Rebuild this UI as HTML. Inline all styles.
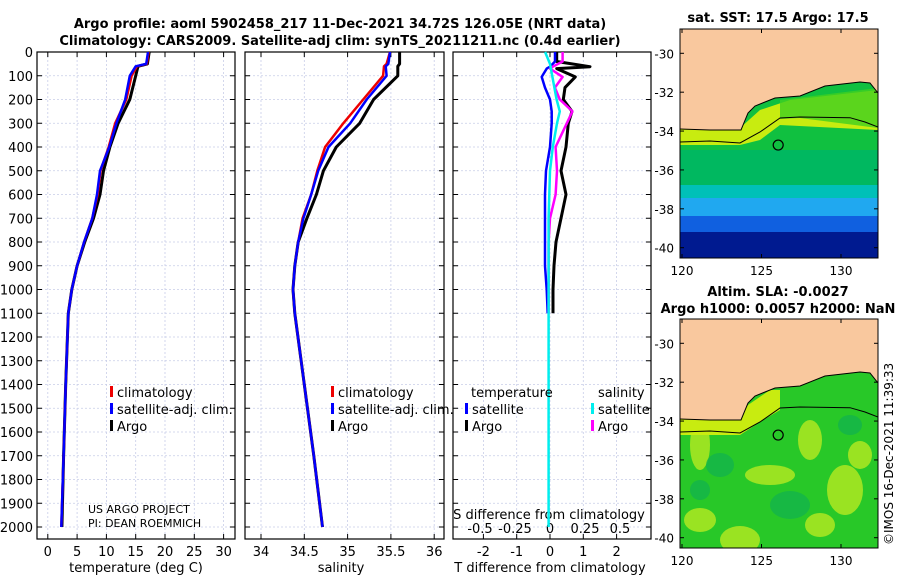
<!DOCTYPE html>
<html><head><meta charset="utf-8"><style>
body{margin:0;background:#fff;}
svg{display:block;font-family:"DejaVu Sans","Liberation Sans",sans-serif;}
</style></head><body>
<svg id="fig" width="900" height="580" viewBox="0 0 900 580" xmlns="http://www.w3.org/2000/svg">
<text x="340" y="28" font-size="13" font-weight="bold" text-anchor="middle">Argo profile: aoml 5902458_217 11-Dec-2021 34.72S 126.05E (NRT data)</text>
<text x="340" y="45" font-size="13" font-weight="bold" text-anchor="middle">Climatology: CARS2009. Satellite-adj clim: synTS_20211211.nc (0.4d earlier)</text>
<text x="778" y="22" font-size="13" font-weight="bold" text-anchor="middle">sat. SST: 17.5 Argo: 17.5</text>
<text x="778" y="296" font-size="13" font-weight="bold" text-anchor="middle">Altim. SLA: -0.0027</text>
<text x="778" y="313" font-size="13" font-weight="bold" text-anchor="middle">Argo h1000: 0.0057 h2000: NaN</text>
<text transform="translate(893,545) rotate(-90)" font-size="12">©IMOS 16-Dec-2021 11:39:33</text>
<g id="g"></g>
</svg>
<script>
// ---- data ----
const depthT = [0,50,60,100,200,300,400,500,600,700,800,900,1000,1100,1400,1700,2000];
const tempArgo = [17.3,17.0,15.4,15.0,14.0,12.0,10.6,9.5,8.9,7.8,6.3,5.0,4.1,3.5,3.05,2.7,2.4];
const tempClim = [17.2,16.9,15.2,14.3,13.4,11.5,10.4,9.0,8.5,7.6,6.2,5.0,4.1,3.5,3.05,2.7,2.3];
const tempSat = [17.1,16.8,15.0,14.0,13.2,11.7,10.5,8.9,8.4,7.6,6.2,5.0,4.1,3.5,3.05,2.7,2.3];
const depthS = [0,50,60,100,200,300,400,500,600,700,800,900,1000,1100,1400,1700,2000];
const salArgo = [35.6,35.6,35.58,35.58,35.30,35.14,34.87,34.72,34.64,34.53,34.43,34.39,34.37,34.39,34.50,34.61,34.71];
const salClim = [35.49,35.45,35.42,35.41,35.18,34.95,34.74,34.65,34.58,34.48,34.43,34.39,34.37,34.39,34.50,34.61,34.71];
const salSat = [35.49,35.47,35.44,35.45,35.22,35.03,34.78,34.66,34.58,34.49,34.43,34.39,34.37,34.39,34.50,34.61,34.71];
const depthD = [0,40,62,70,105,150,200,250,300,400,500,600,700,800,900,1000,1100];
const dTArgo = [0.2,0.2,1.2,0.2,0.76,0.45,0.4,0.66,0.55,0.48,0.33,0.48,0.33,0.18,0.12,0.09,0.09];
const dTSat = [0.15,0.15,0.0,-0.1,-0.25,-0.15,0.0,0.05,0.05,0.0,-0.12,-0.15,-0.15,-0.15,-0.15,-0.1,-0.07];
const dSArgo = [0.09,0.09,0.02,0.0,0.09,0.035,0.07,0.16,0.12,0.04,0.05,0.04,0.0,-0.01,-0.01,-0.01,-0.01];
const depthC = [0,50,200,250,300,400,500,700,1000,2000];
const dSSat = [-0.035,0.0,0.047,0.07,0.05,0.02,0.0,-0.01,-0.01,-0.01];
const depthTicks = [0,100,200,300,400,500,600,700,800,900,1000,1100,1200,1300,1400,1500,1600,1700,1800,1900,2000];
const tTicks = [0,5,10,15,20,25,30];
const sTicks = [34,34.5,35,35.5,36];
const sTickLabels = ["34","34.5","35","35.5","36"];
const dTTicks = [-2,-1,0,1,2];
const dSTicks = [-0.5,-0.25,0,0.25,0.5];
const dSTickLabels = ["-0.5","-0.25","0","0.25","0.5"];
const latTicks = [-30,-32,-34,-36,-38,-40];
const lonTicks = [120,125,130];

// ---- axes ----
const yD = d => 52 + d*0.2375;
const xT = t => 47.8 + t*5.86;
const xS = s => 261 + (s-34)*86.6;
const xDT = t => 550 + t*33.3;
const xDS = s => 550 + s*140;
const yLat = (la,y30) => y30 + (-30 - la)*19.44;
const xLon = lo => 682 + (lo-120)*15.9;

const NS="http://www.w3.org/2000/svg";
const G=document.getElementById('g');
function mk(tag,attrs,parent){const e=document.createElementNS(NS,tag);for(const k in attrs)e.setAttribute(k,attrs[k]);(parent||G).appendChild(e);return e;}
function txt(x,y,s,size,anchor,parent){const e=mk('text',{x:x,y:y,'font-size':size,'text-anchor':anchor||'start'},parent);e.textContent=s;return e;}

const panels=[{l:37,r:235},{l:245,r:444},{l:453,r:651}];
const pTop=52,pBot=539;
panels.forEach((p,i)=>{
  const g=mk('g',{});
  
  
  depthTicks.forEach(d=>{
    const l=mk('line',{x1:p.l,x2:p.r,y1:yD(d),y2:yD(d),stroke:'#c8cde8','stroke-dasharray':'2,2','stroke-width':0.8},g);
    
    mk('line',{x1:p.l,x2:p.l+5,y1:yD(d),y2:yD(d),stroke:'#000'},g);
    mk('line',{x1:p.r-5,x2:p.r,y1:yD(d),y2:yD(d),stroke:'#000'},g);
  });
  let ticks = i==0?tTicks.map(xT):i==1?sTicks.map(xS):dTTicks.map(xDT);
  ticks.forEach(x=>{
    mk('line',{x1:x,x2:x,y1:pTop,y2:pBot,stroke:'#c8cde8','stroke-dasharray':'2,2','stroke-width':0.8},g);
    mk('line',{x1:x,x2:x,y1:pBot-5,y2:pBot,stroke:'#000'},g);
    mk('line',{x1:x,x2:x,y1:pTop,y2:pTop+5,stroke:'#000'},g);
  });
  const fr=mk('rect',{x:p.l,y:pTop,width:p.r-p.l,height:pBot-pTop,fill:'none',stroke:'#000','stroke-width':1.2},g);
  
  
});
depthTicks.forEach(d=>{const t=txt(33,yD(d)+5,String(d),13,'end');

});
tTicks.forEach(v=>{const t=txt(xT(v),556,String(v),13,'middle');

});
sTicks.forEach((v,i)=>{const t=txt(xS(v),556,sTickLabels[i],13,'middle');

});
dTTicks.forEach(v=>{const t=txt(xDT(v),556,String(v),13,'middle');

});
dSTicks.forEach((v,i)=>{const t=txt(xDS(v),533,dSTickLabels[i],13,'middle');

});
let t;
t=txt(136,572,'temperature (deg C)',13,'middle');
t=txt(341,572,'salinity',13,'middle');
t=txt(550,572,'T difference from climatology',13,'middle');
t=txt(549,519,'S difference from climatology',13,'middle');
t=txt(88,513,'US ARGO PROJECT',11,'start');
t=txt(88,527,'PI: DEAN ROEMMICH',11,'start');

function line(xs,ds,xf,color,w,name){
  const pts=ds.map((d,i)=>xf(xs[i]).toFixed(1)+','+yD(d).toFixed(1)).join(' ');
  const e=mk('polyline',{points:pts,fill:'none',stroke:color,'stroke-width':w,'stroke-linejoin':'round'});
  
  
}
line(tempArgo,depthT,xT,'#000',3,'temp-argo-line');
line(tempClim,depthT,xT,'#e00',2.5,'temp-clim-line');
line(tempSat,depthT,xT,'#00f',2.5,'temp-sat-line');
line(salArgo,depthS,xS,'#000',3,'sal-argo-line');
line(salClim,depthS,xS,'#e00',2.5,'sal-clim-line');
line(salSat,depthS,xS,'#00f',2.5,'sal-sat-line');
line(dTArgo,depthD,xDT,'#000',3,'tdiff-argo-line');
line(dTSat,depthD,xDT,'#00f',2.5,'tdiff-sat-line');
line(dSArgo,depthD,xDS,'#f0f',2.5,'sdiff-argo-line');
line(dSSat,depthC,xDS,'#0ee',2.5,'sdiff-sat-line');

function leg(x,y,color,label,name){
  const r=mk('rect',{x:x,y:y-11,width:3,height:11,fill:color});
  
  
  const tt=txt(x+7,y,label,13,'start');
  
  
}
leg(110,397,'#e00','climatology','legend-climatology');
leg(110,414,'#00f','satellite-adj. clim.','legend-satellite-adj');
leg(110,431,'#000','Argo','legend-argo');
leg(331,397,'#e00','climatology','legend-climatology-s');
leg(331,414,'#00f','satellite-adj. clim.','legend-satellite-adj-s');
leg(331,431,'#000','Argo','legend-argo-s');
t=txt(471,397,'temperature',13,'start');
t=txt(598,397,'salinity',13,'start');
leg(465,414,'#00f','satellite','legend-t-satellite');
leg(465,431,'#000','Argo','legend-t-argo');
leg(591,414,'#0ee','satellite','legend-s-satellite');
leg(591,431,'#f0f','Argo','legend-s-argo');

function map(mTop,mBot,kind,name){
  const g=mk('g',{});
  
  
  const L=680,R=878,h=mBot-mTop;
  const y30=mTop+24.3;
  const off=mTop-29;
  const cid='clip'+kind;
  const cp=mk('clipPath',{id:cid},g);mk('rect',{x:L,y:mTop,width:R-L,height:h},cp);
  const c=mk('g',{'clip-path':'url(#'+cid+')'},g);
  const P=a=>a.map(p=>p[0]+','+(p[1]+off)).join(' ');
  if(kind==1){
    mk('rect',{x:L,y:mTop,width:R-L,height:h,fill:'#10c040'},c);
    mk('rect',{x:L,y:150+off,width:R-L,height:40,fill:'#00b860'},c);
    mk('rect',{x:L,y:185+off,width:R-L,height:15,fill:'#00c0b8'},c);
    mk('rect',{x:L,y:198+off,width:R-L,height:20,fill:'#20a8f0'},c);
    mk('rect',{x:L,y:216+off,width:R-L,height:18,fill:'#1060e0'},c);
    mk('rect',{x:L,y:232+off,width:R-L,height:40,fill:'#001a90'},c);
    mk('polygon',{points:P([[680,125],[740,128],[760,110],[790,100],[878,90],[878,130],[780,125],[760,140],[740,145],[680,145]]),fill:'#c8ec10'},c);
    mk('polygon',{points:P([[780,100],[878,88],[878,128],[800,118],[780,119]]),fill:'#40d020',opacity:0.8},c);
  } else {
    mk('rect',{x:L,y:mTop,width:R-L,height:h,fill:'#28c828'},c);
    [[700,155,10,25],[770,185,25,10],[810,150,12,20],[845,200,18,25],[700,230,16,12],[740,250,20,14],[860,165,12,14],[820,235,15,12]].forEach(a=>{
      mk('ellipse',{cx:a[0],cy:a[1]+off,rx:a[2],ry:a[3],fill:'#c0ec20',opacity:0.75},c);
    });
    [[720,175,14,12],[790,215,20,14],[850,135,12,10],[700,200,10,10]].forEach(a=>{
      mk('ellipse',{cx:a[0],cy:a[1]+off,rx:a[2],ry:a[3],fill:'#10b050',opacity:0.7},c);
    });
    mk('polygon',{points:P([[680,125],[740,128],[748,115],[770,100],[780,100],[780,120],[760,132],[740,145],[680,145]]),fill:'#c8ec10'},c);
  }
  mk('polygon',{points:P([[680,0],[878,0],[878,93],[870,83],[860,82],[825,86],[800,96],[775,98],[755,106],[748,113],[741,130],[710,130],[680,129]]),fill:'#f9c89e'},c);
  mk('polyline',{points:P([[680,129],[710,130],[741,130],[748,113],[755,106],[775,98],[800,96],[825,86],[860,82],[870,83],[878,93]]),fill:'none',stroke:'#000','stroke-width':1},c);
  mk('polyline',{points:P([[680,142],[710,141],[740,143],[760,132],[780,118],[800,117],[850,117.7],[865,122],[878,127]]),fill:'none',stroke:'#000','stroke-width':1},c);
  const fl=mk('circle',{cx:xLon(126.05),cy:yLat(-34.72,y30),r:5,fill:'none',stroke:'#000','stroke-width':1.2},g);
  
  
  mk('rect',{x:L,y:mTop,width:R-L,height:h,fill:'none',stroke:'#000'},g);
  latTicks.forEach(la=>{const y=yLat(la,y30);
    mk('line',{x1:L,x2:L+4,y1:y,y2:y,stroke:'#000'},g);
    mk('line',{x1:R-4,x2:R,y1:y,y2:y,stroke:'#000'},g);
    const tt=txt(L-6,y+5,String(la),12,'end',g);
    
    });
  lonTicks.forEach(lo=>{const x=xLon(lo);
    mk('line',{x1:x,x2:x,y1:mBot-4,y2:mBot,stroke:'#000'},g);
    mk('line',{x1:x,x2:x,y1:mTop,y2:mTop+4,stroke:'#000'},g);
    const tt=txt(x,mBot+17,String(lo),12,'middle',g);
    
    });
}
map(29,258,1,'sst-map');
map(319,548,2,'sla-map');
</script>
</body></html>
